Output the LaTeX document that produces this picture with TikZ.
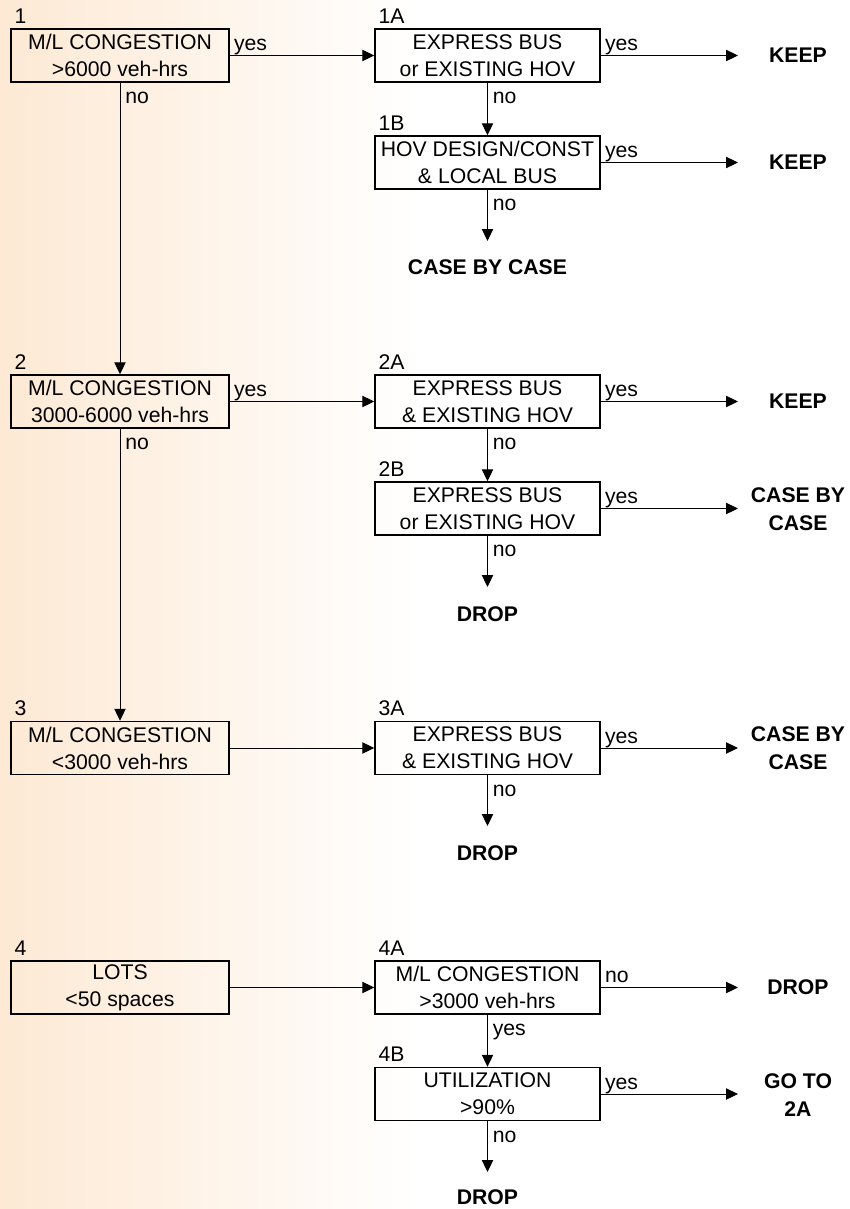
\documentclass[tikz,border=0pt]{standalone}
\usepackage{fontspec}
\setmainfont{Liberation Sans}
\usetikzlibrary{arrows.meta,calc}
\definecolor{peach}{RGB}{253,233,212}
\begin{document}
\begin{tikzpicture}[x=0.75pt,y=-0.75pt,
  font=\fontsize{15.9}{20.25}\selectfont,
  box/.style={draw,line width=1.1pt,rectangle,align=center,inner sep=0pt,minimum height=39.75pt},
  lbox/.style={box,minimum width=163.5pt},
  rbox/.style={box,minimum width=168.75pt},
  conn/.style={line width=0.75pt,-{Triangle[length=9pt,width=8.5pt]}},
  term/.style={font=\fontsize{15.9}{21}\selectfont\bfseries,align=center,inner sep=0pt},
  num/.style={anchor=base west,inner sep=0pt},
  lab/.style={anchor=base west,inner sep=0pt}]
\useasboundingbox (0,0) rectangle (849,1209);
\fill[white] (0,0) rectangle (849,1209);
\shade[left color=peach,right color=white] (0,0) rectangle (420,1209);

% ---- row 1
\node[lbox] (b1)  at (120,55.5)   {M/L CONGESTION\\>6000 veh-hrs};
\node[rbox] (b1A) at (487.5,55.5) {EXPRESS BUS\\or EXISTING HOV};
\node[rbox] (b1B) at (487.5,162.5){HOV DESIGN/CONST\\\& LOCAL BUS};
\node[num] (n1)  at ($(b1.north west)+(4,-5)$)  {1};
\node[num] (n1A) at ($(b1A.north west)+(4,-5)$) {1A};
\node[num] (n1B) at ($(b1B.north west)+(4,-5)$) {1B};
\node[term] (t1A) at (798,55.5)  {KEEP};
\node[term] (t1B) at (798,162.5) {KEEP};
\node[term] (t1C) at (487.5,267) {CASE BY CASE};
\coordinate (e1A) at (738,55.5);
\coordinate (e1B) at (738,162.5);
\coordinate (d1B) at (487.5,241);

% ---- row 2
\node[lbox] (b2)  at (120,401.5)   {M/L CONGESTION\\3000-6000 veh-hrs};
\node[rbox] (b2A) at (487.5,401.5) {EXPRESS BUS\\\& EXISTING HOV};
\node[rbox] (b2B) at (487.5,508.5) {EXPRESS BUS\\or EXISTING HOV};
\node[num] (n2)  at ($(b2.north west)+(4,-5)$)  {2};
\node[num] (n2A) at ($(b2A.north west)+(4,-5)$) {2A};
\node[num] (n2B) at ($(b2B.north west)+(4,-5)$) {2B};
\node[term] (t2A) at (798,401.5) {KEEP};
\node[term] (t2B) at (798,509)   {CASE BY\\CASE};
\node[term] (t2C) at (487.5,614) {DROP};
\coordinate (e2A) at (738,401.5);
\coordinate (e2B) at (738,508.5);
\coordinate (d2B) at (487.5,587);

% ---- row 3
\node[lbox] (b3)  at (120,748)   {M/L CONGESTION\\<3000 veh-hrs};
\node[rbox] (b3A) at (487.5,748) {EXPRESS BUS\\\& EXISTING HOV};
\node[num] (n3)  at ($(b3.north west)+(4,-5)$)  {3};
\node[num] (n3A) at ($(b3A.north west)+(4,-5)$) {3A};
\node[term] (t3A) at (798,748)   {CASE BY\\CASE};
\node[term] (t3C) at (487.5,853) {DROP};
\coordinate (e3A) at (738,748);
\coordinate (d3A) at (487.5,826);

% ---- row 4
\node[lbox] (b4)  at (120,987.5)   {LOTS\\<50 spaces};
\node[rbox] (b4A) at (487.5,987.5) {M/L CONGESTION\\>3000 veh-hrs};
\node[rbox] (b4B) at (487.5,1094)  {UTILIZATION\\>90\%};
\node[num] (n4)  at ($(b4.north west)+(4,-5)$)  {4};
\node[num] (n4A) at ($(b4A.north west)+(4,-5)$) {4A};
\node[num] (n4B) at ($(b4B.north west)+(4,-5)$) {4B};
\node[term] (t4A) at (798,987.5)  {DROP};
\node[term] (t4B) at (798,1095)   {GO TO\\2A};
\node[term] (t4C) at (487.5,1197) {DROP};
\coordinate (e4A) at (738,987.5);
\coordinate (e4B) at (738,1094);
\coordinate (d4B) at (487.5,1172);

% ---- connectors
\draw[conn] (b1) -- (b1A);
\draw[conn] (b1A.east) -- (e1A);
\draw[conn] (b1A) -- (b1B);
\draw[conn] (b1B.east) -- (e1B);
\draw[conn] (b1B.south) -- (d1B);
\draw[conn] (b1) -- (b2);

\draw[conn] (b2) -- (b2A);
\draw[conn] (b2A.east) -- (e2A);
\draw[conn] (b2A) -- (b2B);
\draw[conn] (b2B.east) -- (e2B);
\draw[conn] (b2B.south) -- (d2B);
\draw[conn] (b2) -- (b3);

\draw[conn] (b3) -- (b3A);
\draw[conn] (b3A.east) -- (e3A);
\draw[conn] (b3A.south) -- (d3A);

\draw[conn] (b4) -- (b4A);
\draw[conn] (b4A.east) -- (e4A);
\draw[conn] (b4A) -- (b4B);
\draw[conn] (b4B.east) -- (e4B);
\draw[conn] (b4B.south) -- (d4B);

% ---- yes / no labels
\node[lab] (y1)  at ($(b1.east)+(4,-5)$)  {yes};
\node[lab] (y1A) at ($(b1A.east)+(4,-5)$) {yes};
\node[lab] (y1B) at ($(b1B.east)+(4,-5)$) {yes};
\node[lab] (o1)  at ($(b1.south)+(5,21)$)  {no};
\node[lab] (o1A) at ($(b1A.south)+(5,21)$) {no};
\node[lab] (o1B) at ($(b1B.south)+(5,21)$) {no};

\node[lab] (y2)  at ($(b2.east)+(4,-5)$)  {yes};
\node[lab] (y2A) at ($(b2A.east)+(4,-5)$) {yes};
\node[lab] (y2B) at ($(b2B.east)+(4,-5)$) {yes};
\node[lab] (o2)  at ($(b2.south)+(5,21)$)  {no};
\node[lab] (o2A) at ($(b2A.south)+(5,21)$) {no};
\node[lab] (o2B) at ($(b2B.south)+(5,21)$) {no};

\node[lab] (y3A) at ($(b3A.east)+(4,-5)$) {yes};
\node[lab] (o3A) at ($(b3A.south)+(5,21)$) {no};

\node[lab] (o4A) at ($(b4A.east)+(4,-5)$) {no};
\node[lab] (y4A) at ($(b4A.south)+(5,21)$) {yes};
\node[lab] (y4B) at ($(b4B.east)+(4,-5)$) {yes};
\node[lab] (o4B) at ($(b4B.south)+(5,21)$) {no};
\end{tikzpicture}
\end{document}
